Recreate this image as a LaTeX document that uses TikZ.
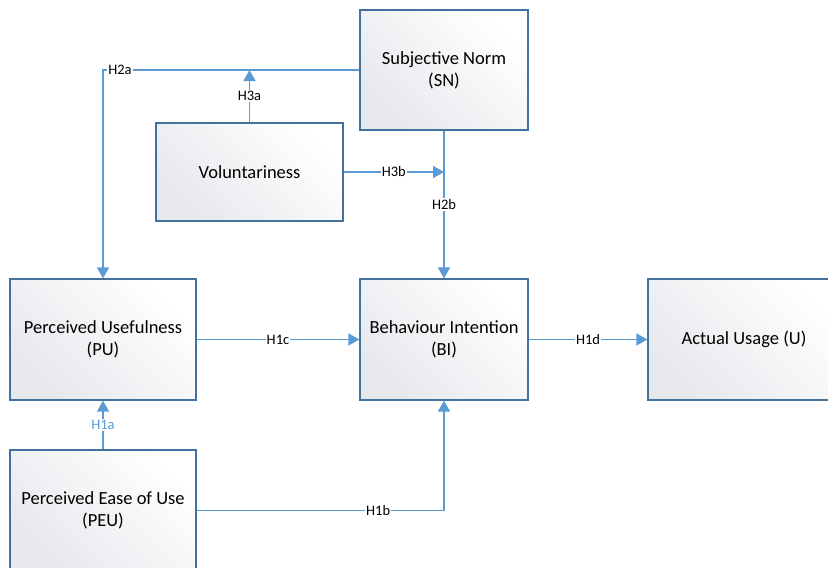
\documentclass[tikz,border=0pt]{standalone}
\usepackage{fontspec}
\setmainfont{Carlito}
\usetikzlibrary{arrows.meta}
\definecolor{linkblue}{HTML}{5B9BD5}
\definecolor{boxedge}{HTML}{41719C}
\definecolor{boxtop}{HTML}{E6E8EC}
\begin{document}
\begin{tikzpicture}[x=1pt,y=-1pt,
 box/.style={draw=boxedge, line width=1.2pt, top color=boxtop, bottom color=white, shading angle=135, align=center, inner sep=0pt, font=\fontsize{18.5}{22}\selectfont},
 link/.style={draw=linkblue, line width=1.6pt, -{Triangle[length=11pt,width=12pt]}},
 lbl/.style={fill=white, inner sep=1pt, text=black, font=\fontsize{14.5}{16}\selectfont}
]
\fill[white] (0,0) rectangle (828,568);
\useasboundingbox (0,0) rectangle (828,568);
\clip (0,0) rectangle (828,568);

\node[box, minimum width=168pt, minimum height=120pt] (sn) at (444,70) {Subjective Norm\\(SN)};
\node[box, minimum width=187pt, minimum height=98pt] (vol) at (249.5,172) {Voluntariness};
\node[box, minimum width=186pt, minimum height=121pt] (pu) at (103,339.5) {Perceived Usefulness\\(PU)};
\node[box, minimum width=168pt, minimum height=121pt] (bi) at (444,339.5) {Behaviour Intention\\(BI)};
\node[box, minimum width=192pt, minimum height=121pt] (au) at (744,339.5) {Actual Usage (U)};
\node[box, minimum width=186pt, minimum height=121pt] (peu) at (103,510.5) {Perceived Ease of Use\\(PEU)};

\draw[link] (sn.west) -| (pu.north) node[lbl, pos=0.467] {H2a};
\draw[link] (vol.north) -- (vol.north |- sn.west) node[lbl, midway] {H3a};
\draw[link] (vol.east) -- (sn.south |- vol.east) node[lbl, midway] {H3b};
\draw[link] (sn.south) -- (bi.north) node[lbl, midway] {H2b};
\draw[link] (pu.east) -- (bi.west) node[lbl, midway] {H1c};
\draw[link] (bi.east) -- (au.west) node[lbl, midway] {H1d};
\draw[link] (peu.north) -- (pu.south) node[lbl, midway, text=linkblue] {H1a};
\draw[link] (peu.east) -| (bi.south) node[lbl, pos=0.367] {H1b};
\end{tikzpicture}
\end{document}
